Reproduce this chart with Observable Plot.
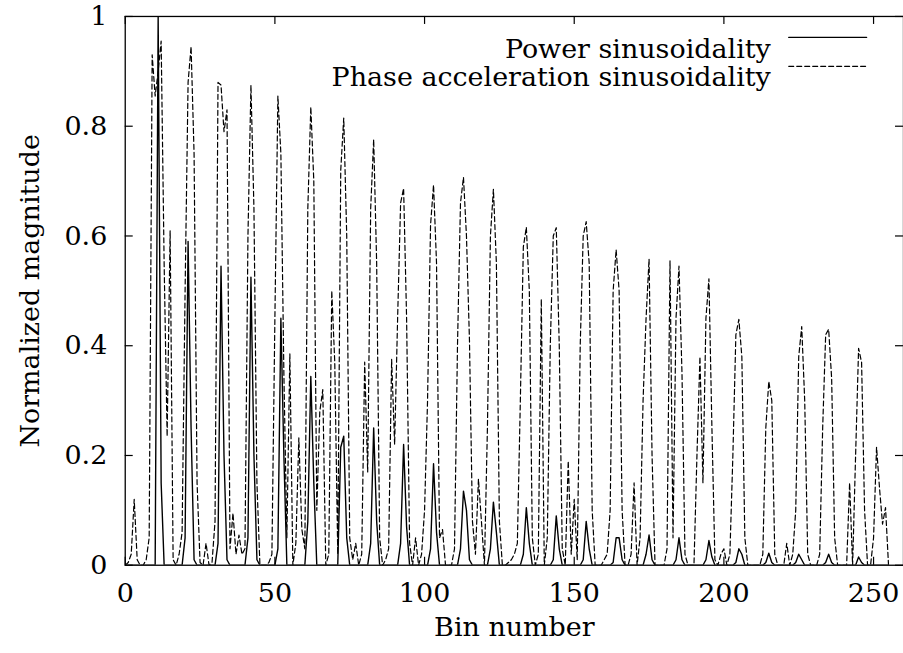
<!DOCTYPE html>
<html><head><meta charset="utf-8">
<script src="https://cdn.jsdelivr.net/npm/d3@7"></script>
<script src="https://cdn.jsdelivr.net/npm/@observablehq/plot@0.6"></script>
<style>
html, body {margin:0; padding:0; background:#fff; overflow:hidden; width:903px; height:653px;}
#chart svg, #chart svg text {font-family: "DejaVu Serif" !important;}
</style></head><body><div id="chart"></div>
<script>
const xTicks = [0, 50, 100, 150, 200, 250];
const yTicks = [0, 0.2, 0.4, 0.6, 0.8, 1];
const seriesNames = ["Power sinusoidality", "Phase acceleration sinusoidality"];
const axisTitles = {x: "Bin number", y: "Normalized magnitude"};

const powerSin = [
  0,0,0,0,0,0,0,0,0,0,
  0,1.0,0.15,0,0,0,0,0,0,0,
  0.05,0.59,0.25,0.01,0,0,0,0,0,0,
  0,0.04,0.545,0.2,0.01,0,0,0,0,0,
  0,0.05,0.525,0.2,0.01,0,0,0,0,0,
  0,0.03,0.45,0.2,0,0,0,0,0,0,
  0,0.08,0.344,0.15,0,0,0,0,0,0,
  0,0,0.215,0.235,0.05,0,0,0,0,0,
  0,0,0.04,0.25,0.08,0,0,0,0,0,
  0,0,0.04,0.22,0.07,0,0,0,0,0,
  0,0,0.03,0.185,0.06,0,0,0,0,0,
  0,0,0.03,0.135,0.1,0.01,0,0,0,0,
  0,0,0.03,0.115,0.06,0,0,0,0,0,
  0,0,0,0.02,0.105,0.04,0,0,0,0,
  0,0,0,0.01,0.09,0.03,0,0,0,0,
  0,0,0,0.01,0.08,0.03,0,0,0,0,
  0,0,0,0.005,0.05,0.05,0.01,0,0,0,
  0,0,0,0,0.02,0.055,0.01,0,0,0,
  0,0,0,0,0.01,0.05,0.01,0,0,0,
  0,0,0,0,0.01,0.045,0.015,0,0,0,
  0,0,0,0,0.005,0.03,0.02,0,0,0,
  0,0,0,0,0.005,0.022,0.005,0,0,0,
  0,0,0,0,0.005,0.02,0.01,0,0,0,
  0,0,0,0,0.005,0.02,0.005,0,0,0,
  0,0,0,0,0,0.015,0.005,0,0,0,
  0,0,0,0,0,0
];

const phaseAccSin = [
  0,0.005,0.02,0.12,0.01,0,0,0.01,0.05,0.93,
  0.855,0.9,0.955,0.55,0.235,0.61,0.01,0,0.02,0.06,
  0.5,0.88,0.945,0.75,0.15,0.005,0,0.04,0,0.005,
  0.08,0.88,0.875,0.79,0.83,0.03,0.095,0.02,0.055,0.02,
  0.03,0.6,0.875,0.65,0.15,0,0,0,0.005,0.02,
  0.45,0.855,0.75,0.35,0.05,0.385,0,0.04,0.232,0.066,
  0.03,0.65,0.835,0.7,0.1,0.28,0.32,0,0.02,0.5,
  0.37,0.02,0.72,0.815,0.6,0.05,0.01,0.04,0,0.02,
  0.37,0.17,0.65,0.776,0.55,0.05,0,0.01,0.03,0.375,
  0.22,0.45,0.66,0.687,0.45,0.04,0,0.05,0,0.02,
  0.1,0.3,0.62,0.693,0.55,0.05,0.065,0,0,0,
  0.03,0.4,0.66,0.707,0.6,0.41,0.08,0.02,0.157,0.08,
  0,0.25,0.6,0.685,0.55,0.08,0,0,0.005,0.01,
  0.02,0.04,0.3,0.58,0.616,0.5,0.05,0,0.02,0.485,
  0,0.05,0.4,0.6,0.615,0.4,0.03,0,0.19,0.02,
  0.12,0.01,0.4,0.6,0.626,0.55,0.1,0,0,0,
  0.01,0.02,0.1,0.5,0.575,0.5,0.1,0,0,0.02,
  0.15,0,0.05,0.3,0.45,0.558,0.2,0,0,0,
  0,0.03,0.555,0.05,0.45,0.545,0.35,0.02,0,0,
  0,0.2,0.38,0.15,0.45,0.522,0.25,0.01,0,0.02,
  0.03,0,0.02,0.2,0.42,0.448,0.38,0.05,0,0,
  0,0,0,0.02,0.25,0.335,0.3,0.02,0,0,
  0,0.04,0,0.02,0.1,0.38,0.435,0.3,0.02,0,
  0,0,0.02,0.25,0.42,0.43,0.34,0.05,0,0,
  0,0,0.15,0,0.2,0.395,0.37,0.1,0,0,
  0.05,0.215,0.14,0.075,0.105,0
];

const rows = (vals) => vals.map((v, i) => ({bin: i, value: v}));
const fontFamily = "DejaVu Serif";
const legendLine = {draw(ctx, l) { ctx.moveTo(0, 0); ctx.lineTo(0, -l); }};
const dash = "5,3";
const txt = {fontFamily, fontSize: 27, fill: "black"};

const chart = Plot.plot({
  width: 905, height: 653,
  marginLeft: 125, marginRight: 0, marginTop: 16, marginBottom: 87,
  style: {fontFamily: "DejaVu Serif", fontSize: "27px", color: "black", background: "white", overflow: "visible"},
  x: {domain: [0, 260]},
  y: {domain: [0, 1]},
  marks: [
    Plot.line(rows(phaseAccSin), {x: "bin", y: "value", stroke: "black", strokeWidth: 1.2, strokeDasharray: dash, clip: true}),
    Plot.line(rows(powerSin), {x: "bin", y: "value", stroke: "black", strokeWidth: 1.4, clip: true}),
    Plot.frame({stroke: "black", strokeWidth: 1.3}),
    Plot.ruleX(xTicks, {x: d => d, insetTop: 542, stroke: "black", strokeWidth: 1.2}),
    Plot.ruleX(xTicks, {x: d => d, insetBottom: 542, stroke: "black", strokeWidth: 1.2}),
    Plot.ruleY(yTicks, {y: d => d, insetRight: 772, stroke: "black", strokeWidth: 1.2}),
    Plot.ruleY(yTicks, {y: d => d, insetLeft: 772, stroke: "black", strokeWidth: 1.2}),
    Plot.axisX(xTicks, {tickSize: 0, tickPadding: 18, tickFormat: d => String(d), ...txt, label: null}),
    Plot.axisY(yTicks, {tickSize: 0, tickPadding: 18, tickFormat: d => String(d), ...txt, label: null}),
    Plot.text([axisTitles.x], {text: d => d, frameAnchor: "bottom", textAnchor: "middle", dy: 71, ...txt}),
    Plot.text([axisTitles.y], {text: d => d, frameAnchor: "left", textAnchor: "middle", dx: -95, rotate: -90, ...txt}),
    Plot.text([seriesNames[0]], {text: d => d, frameAnchor: "top-right", dx: -133, dy: 22, textAnchor: "end", ...txt}),
    Plot.text([seriesNames[1]], {text: d => d, frameAnchor: "top-right", dx: -133, dy: 51, textAnchor: "end", ...txt}),
    Plot.vector([seriesNames[0]], {frameAnchor: "top-right", dx: -76, dy: 21, length: 78, rotate: 90, anchor: "middle", shape: legendLine, stroke: "black", strokeWidth: 1.4}),
    Plot.vector([seriesNames[1]], {frameAnchor: "top-right", dx: -76, dy: 50, length: 78, rotate: 90, anchor: "middle", shape: legendLine, stroke: "black", strokeWidth: 1.2, strokeDasharray: dash})
  ]
});
document.getElementById("chart").appendChild(chart);
</script></body></html>
